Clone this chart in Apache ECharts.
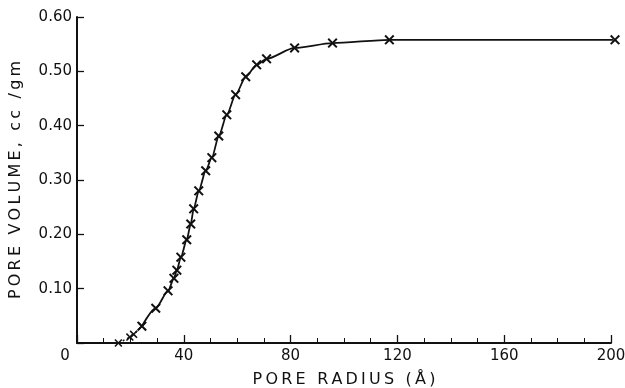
<!DOCTYPE html>
<html>
<head>
<meta charset="utf-8">
<script src="https://cdn.jsdelivr.net/npm/echarts@6/dist/echarts.min.js"></script>
<style>
  html, body { margin: 0; padding: 0; background: #fff; }
  #chart { width: 625px; height: 388px; }
</style>
</head>
<body>
<div id="chart"></div>
<script>
// low end of the curve, drawn dotted
const radiusTail = [15.5, 19.8, 21.2, 24.3];
const volumeTail = [0.0, 0.011, 0.016, 0.031];

// measured points, pore radius (Å) vs pore volume (cc/gm)
const radius = [24.3, 29.5, 34.1, 36.3, 37.4, 38.9, 41.1, 42.6, 43.7, 45.6, 48.2, 50.5, 53.1, 56.1, 59.4, 63.2, 67.3, 71.0, 81.5, 95.7, 117, 201.5];
const volume = [0.031, 0.064, 0.096, 0.119, 0.134, 0.158, 0.19, 0.219, 0.247, 0.28, 0.317, 0.341, 0.381, 0.42, 0.457, 0.49, 0.512, 0.523, 0.543, 0.552, 0.558, 0.558];

const xTicks = [0, 40, 80, 120, 160, 200];
const yTicks = [0.1, 0.2, 0.3, 0.4, 0.5, 0.6];

const cross = 'path://M0,1.4L1.4,0L5,3.6L8.6,0L10,1.4L6.4,5L10,8.6L8.6,10L5,6.4L1.4,10L0,8.6L3.6,5Z';
const font = '"DejaVu Sans", "Liberation Sans", sans-serif';
const ink = '#111';

const toPairs = (xs, ys) => xs.map((x, i) => [x, ys[i]]);
// canvas text ignores letterSpacing, so open the titles up with thin spaces
const spaced = s => s.split('').join('\u2009');

const chart = echarts.init(document.getElementById('chart'));
chart.setOption({
  animation: false,
  backgroundColor: '#fff',
  grid: { left: 77, right: 14, top: 17, bottom: 45, containLabel: false, outerBoundsMode: 'none' },
  xAxis: {
    type: 'value',
    min: 0,
    max: 200,
    interval: 40,
    name: spaced('PORE RADIUS (Å)'),
    nameLocation: 'middle',
    nameGap: 29,
    nameTextStyle: { fontFamily: font, fontSize: 16, color: ink },
    axisLine: { lineStyle: { color: ink, width: 2 } },
    axisTick: { inside: true, length: 8, lineStyle: { color: ink, width: 1.3 } },
    minorTick: { show: true, splitNumber: 4, length: 5, lineStyle: { color: ink, width: 1 } },
    splitLine: { show: false },
    axisLabel: {
      fontFamily: font, fontSize: 15, color: ink, margin: 6,
      customValues: xTicks,
      formatter: v => (v === 0 ? '{z|0}' : String(v)),
      rich: { z: { fontFamily: font, fontSize: 15, color: ink, padding: [0, 24, 0, 0] } }
    }
  },
  yAxis: {
    type: 'value',
    min: 0,
    max: 0.6,
    interval: 0.1,
    name: spaced('PORE VOLUME, cc /gm'),
    nameLocation: 'middle',
    nameGap: 53,
    nameTextStyle: { fontFamily: font, fontSize: 16, color: ink },
    axisLine: { show: true, lineStyle: { color: ink, width: 2 } },
    axisTick: { show: true, inside: true, length: 7, lineStyle: { color: ink, width: 1.3 } },
    splitLine: { show: false },
    axisLabel: {
      fontFamily: font, fontSize: 15, color: ink, margin: 5,
      customValues: yTicks,
      formatter: v => v.toFixed(2)
    }
  },
  series: [
    {
      type: 'line',
      data: toPairs(radiusTail, volumeTail),
      smooth: true,
      symbol: cross,
      symbolSize: 8,
      itemStyle: { color: ink },
      lineStyle: { color: ink, width: 1.5, type: [2, 3] },
      clip: false
    },
    {
      type: 'line',
      data: toPairs(radius, volume),
      smooth: 0.25,
      smoothMonotone: 'x',
      symbol: cross,
      symbolSize: 10,
      itemStyle: { color: ink },
      lineStyle: { color: ink, width: 1.8 },
      clip: false
    }
  ]
});
</script>
</body>
</html>
